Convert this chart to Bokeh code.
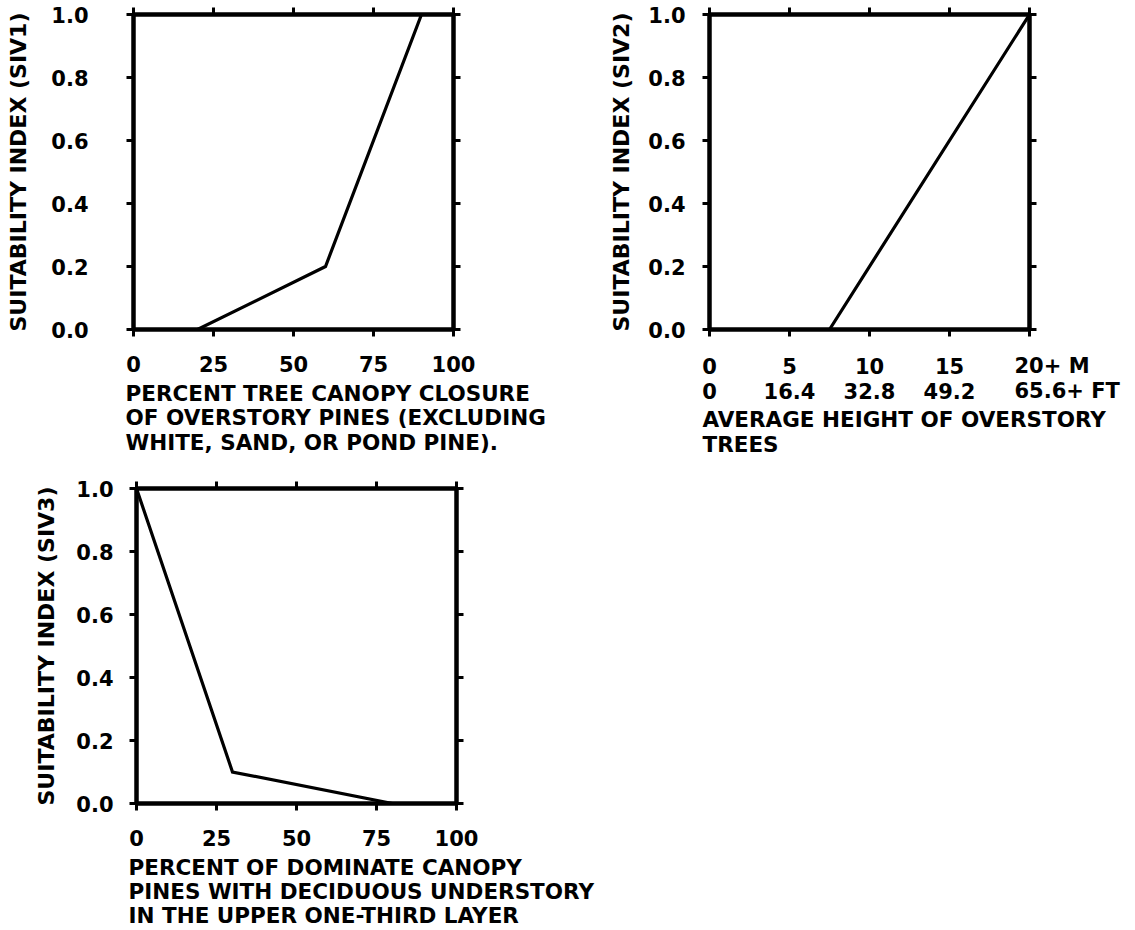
from bokeh.plotting import figure
from bokeh.models import (Range1d, LinearAxis, FixedTicker, NumeralTickFormatter,
                          CustomJSTickFormatter)
from bokeh.core.properties import value
from bokeh.layouts import column, row
from bokeh.embed import file_html
from bokeh.resources import INLINE

FONT = "DejaVu Sans"
FS = "21px"        # tick numbers
FS_T = "21.5px"    # titles

# ---------------- data ----------------
siv1_x = [20, 60, 90, 100]
siv1_y = [0.0, 0.2, 1.0, 1.0]

siv2_x = [0, 7.5, 20]
siv2_y = [0.0, 0.0, 1.0]

siv3_x = [0, 30, 80]
siv3_y = [1.0, 0.1, 0.0]

y_ticks = [0.0, 0.2, 0.4, 0.6, 0.8, 1.0]
pct_ticks = [0, 25, 50, 75, 100]
height_ticks_m = [0, 5, 10, 15, 20]
height_labels_m = ["0", "5", "10", "15", "20+ M"]
height_labels_ft = ["0", "16.4", "32.8", "49.2", "65.6+ FT"]

ylabel1 = "SUITABILITY INDEX (SIV1)"
ylabel2 = "SUITABILITY INDEX (SIV2)"
ylabel3 = "SUITABILITY INDEX (SIV3)"
xlabel1 = ["PERCENT TREE CANOPY CLOSURE",
           "OF OVERSTORY PINES (EXCLUDING",
           "WHITE, SAND, OR POND PINE)."]
xlabel2 = ["AVERAGE HEIGHT OF OVERSTORY", "TREES"]
xlabel3 = ["PERCENT OF DOMINATE CANOPY",
           "PINES WITH DECIDUOUS UNDERSTORY",
           "IN THE UPPER ONE-THIRD LAYER"]

FRAME_W = 320
FRAME_H = 315


def style_axis(ax, ticks, show_labels, standoff=0):
    ax.ticker = FixedTicker(ticks=ticks)
    ax.axis_line_width = 4
    ax.axis_line_color = "black"
    ax.major_tick_line_width = 3
    ax.major_tick_line_color = "black"
    ax.major_tick_out = 7
    ax.major_tick_in = 0
    ax.minor_tick_out = 0
    ax.minor_tick_in = 0
    ax.major_label_text_font = FONT
    ax.major_label_text_font_style = "bold"
    ax.major_label_text_color = "black"
    if show_labels:
        ax.major_label_text_font_size = FS
        ax.major_label_standoff = standoff
    else:
        # ticks only, no numbers on this side
        ax.formatter = CustomJSTickFormatter(code="return ''")
        ax.major_label_text_font_size = "0px"
        ax.major_label_standoff = 0


def make_panel(width, height, xmax, xticks, borders, xs, ys,
               ylabel, ylab_standoff, ytick_standoff,
               show_xlabels, xtick_standoff):
    left, right, top, bottom = borders
    p = figure(width=width, height=height, output_backend="svg",
               toolbar_location=None,
               x_range=Range1d(0, xmax), y_range=Range1d(0, 1),
               min_border_left=left, min_border_right=right,
               min_border_top=top, min_border_bottom=bottom)
    p.frame_align = False
    p.xgrid.visible = False
    p.ygrid.visible = False
    p.outline_line_width = 4
    p.outline_line_color = "black"
    p.background_fill_color = "white"
    p.border_fill_color = "white"

    style_axis(p.xaxis[0], xticks, show_xlabels, xtick_standoff)
    style_axis(p.yaxis[0], y_ticks, True, ytick_standoff)
    p.yaxis[0].formatter = NumeralTickFormatter(format="0.0")
    p.yaxis[0].axis_label = ylabel
    p.yaxis[0].axis_label_text_font = FONT
    p.yaxis[0].axis_label_text_font_style = "bold"
    p.yaxis[0].axis_label_text_font_size = "22px"
    p.yaxis[0].axis_label_text_color = "black"
    p.yaxis[0].axis_label_standoff = ylab_standoff

    top_ax = LinearAxis()
    style_axis(top_ax, xticks, False)
    p.add_layout(top_ax, "above")
    right_ax = LinearAxis()
    style_axis(right_ax, y_ticks, False)
    p.add_layout(right_ax, "right")

    p.line(xs, ys, line_color="black", line_width=3.2, line_join="miter")
    return p


def make_text_strip(width, height, xmax, frame_left):
    """Figure that continues the x scale of a panel below it, for text rows."""
    scale = FRAME_W / xmax          # pixels per data unit
    x0 = -frame_left / scale
    x1 = (width - frame_left) / scale
    q = figure(width=width, height=height, output_backend="svg",
               toolbar_location=None, x_axis_type=None, y_axis_type=None,
               x_range=Range1d(x0, x1), y_range=Range1d(height, 0),
               min_border=0, min_border_left=0, min_border_right=0,
               min_border_top=0, min_border_bottom=0)
    q.frame_align = False
    q.xgrid.visible = False
    q.ygrid.visible = False
    q.outline_line_color = None
    q.background_fill_color = "white"
    q.border_fill_color = "white"
    return q


def add_lines(q, lines, x_off, ys):
    q.text(x=[0] * len(lines), y=ys, text=lines, x_offset=x_off,
           text_font=value(FONT), text_font_style="bold",
           text_font_size=FS_T, text_color="black",
           text_align="left", text_baseline="middle")


# ---------- panel 1 ----------
p1 = make_panel(565, 380, 100, pct_ticks, (133, 112, 14, 51),
                siv1_x, siv1_y, ylabel1, 17, 38, True, 19)
q1 = make_text_strip(565, 98, 100, 133)
add_lines(q1, xlabel1, -8, [13, 37, 62])

# ---------- panel 2 ----------
p2 = make_panel(570, 346, 20, height_ticks_m, (144, 106, 14, 17),
                siv2_x, siv2_y, ylabel2, 11, 17, False, 0)
q2 = make_text_strip(570, 132, 20, 144)
for row_labels, yy in ((height_labels_m, 19), (height_labels_ft, 44)):
    n = len(row_labels)
    q2.text(x=height_ticks_m[:n - 1], y=[yy] * (n - 1), text=row_labels[:n - 1],
            text_font=value(FONT), text_font_style="bold", text_font_size=FS,
            text_color="black", text_align="center", text_baseline="middle")
    q2.text(x=height_ticks_m[n - 1:], y=[yy], text=row_labels[n - 1:], x_offset=-15,
            text_font=value(FONT), text_font_style="bold", text_font_size=FS,
            text_color="black", text_align="left", text_baseline="middle")
add_lines(q2, xlabel2, -7, [73, 98])

# ---------- panel 3 ----------
p3 = make_panel(640, 376, 100, pct_ticks, (136, 184, 10, 51),
                siv3_x, siv3_y, ylabel3, 14, 16, True, 19)
q3 = make_text_strip(640, 75, 100, 136)
add_lines(q3, xlabel3, -8, [13, 37, 61])

layout = column(row(column(p1, q1), column(p2, q2)), column(p3, q3))
open("out.html", "w").write(file_html(layout, INLINE))
